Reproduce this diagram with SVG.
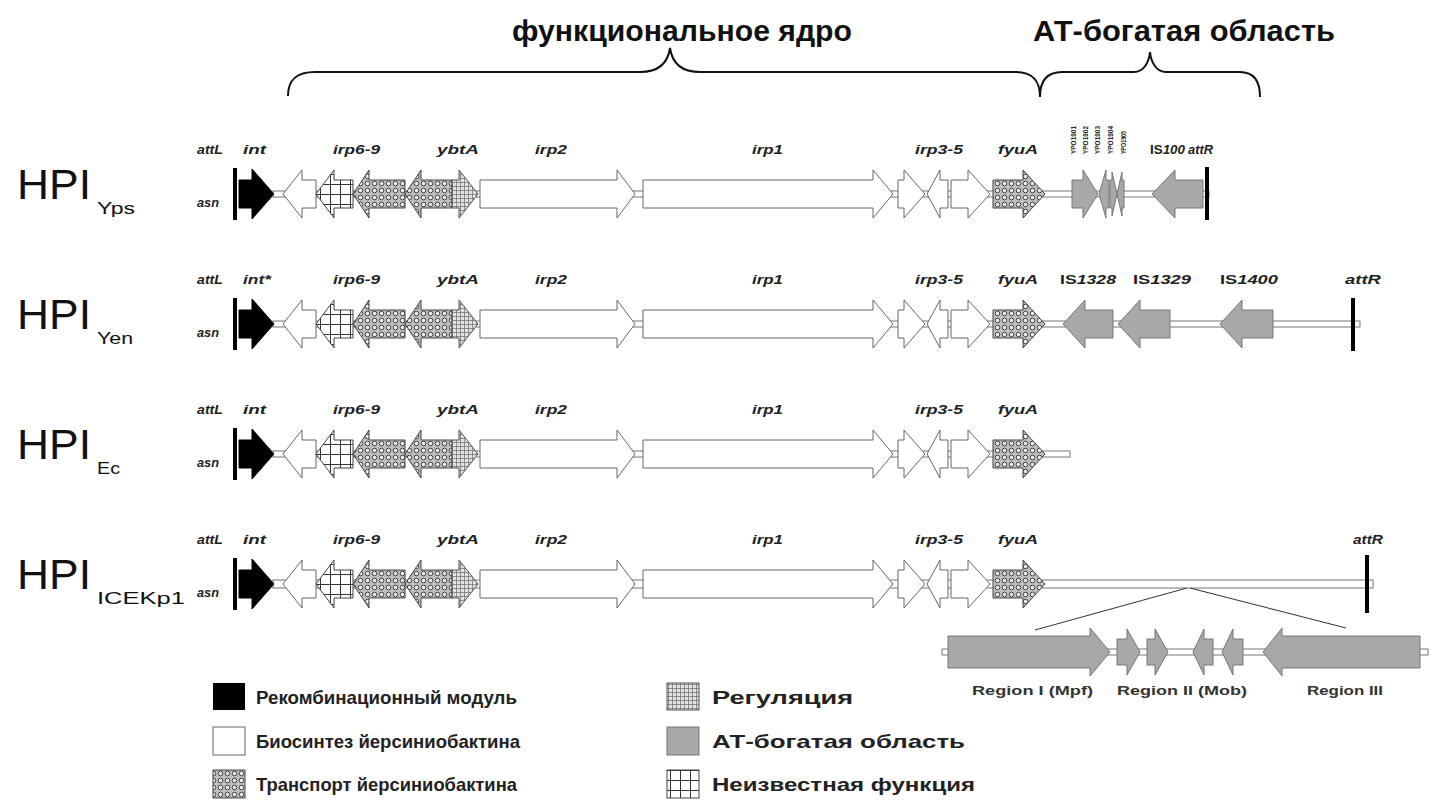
<svg xmlns="http://www.w3.org/2000/svg" width="1435" height="800" viewBox="0 0 1435 800">
<defs>
<pattern id="pT" width="7" height="7" patternUnits="userSpaceOnUse">
<rect width="7" height="7" fill="#bdbdbd"/>
<circle cx="3.5" cy="3.5" r="2.3" fill="#e8e8e8" stroke="#333" stroke-width="0.9"/>
</pattern>
<pattern id="pR" width="4" height="4" patternUnits="userSpaceOnUse">
<rect width="4" height="4" fill="#e2e2e2"/>
<path d="M0,0.5H4M0.5,0V4" stroke="#777" stroke-width="0.8"/>
</pattern>
<pattern id="pU" width="10" height="10" patternUnits="userSpaceOnUse">
<rect width="10" height="10" fill="#fff"/>
<path d="M0,0.5H10M0.5,0V10" stroke="#333" stroke-width="1"/>
</pattern>
</defs>
<style>
.lbl{font-family:"Liberation Sans",Arial,sans-serif;font-weight:bold;font-style:italic;font-size:12px;fill:#222}
.up{font-style:normal}
.hpi{font-family:"Liberation Sans",Arial,sans-serif;font-size:42px;fill:#111}
.sub{font-family:"Liberation Sans",Arial,sans-serif;font-size:17px;fill:#111}
.ttl{font-family:"Liberation Sans",Arial,sans-serif;font-weight:bold;font-size:29px;fill:#111}
.leg{font-family:"Liberation Sans",Arial,sans-serif;font-weight:bold;font-size:19px;fill:#222}
.reg{font-family:"Liberation Sans",Arial,sans-serif;font-weight:bold;font-size:12px;fill:#333}
.vt{font-family:"Liberation Sans",Arial,sans-serif;font-weight:bold;font-size:8px;fill:#222}
.w{fill:#fff;stroke:#666;stroke-width:1}
.k{fill:#000;stroke:#000;stroke-width:1}
.t{fill:url(#pT);stroke:#444;stroke-width:1}
.r{fill:url(#pR);stroke:#555;stroke-width:1}
.u{fill:url(#pU);stroke:#444;stroke-width:1}
.a{fill:#a8a8a8;stroke:#777;stroke-width:1}
.dna{fill:#fff;stroke:#777;stroke-width:1}
.bar{fill:#000}
.brace{fill:none;stroke:#111;stroke-width:2}
.zl{fill:none;stroke:#333;stroke-width:1}
</style>
<rect width="1435" height="800" fill="#fff"/>

<g id="titles">
<text class="ttl" x="512" y="41" textLength="340" lengthAdjust="spacingAndGlyphs">функциональное ядро</text>
<text class="ttl" x="1033" y="41" textLength="302" lengthAdjust="spacingAndGlyphs">АТ-богатая область</text>
<path class="brace" d="M288,96 C288,80 296,72 315,72 L640,72 C660,72 668,62 670,48 C672,62 680,72 700,72 L1015,72 C1034,72 1040,82 1040,97"/>
<path class="brace" d="M1040,97 C1040,82 1046,72 1062,72 L1134,72 C1144,72 1149,62 1150,52 C1151,62 1156,72 1166,72 L1240,72 C1255,72 1260,82 1260,97"/>
</g>

<g id="row-Yps" transform="translate(0,194)">
<text class="hpi" x="17" y="5" textLength="74" lengthAdjust="spacingAndGlyphs">HPI</text>
<text class="sub" x="97" y="20" textLength="38" lengthAdjust="spacingAndGlyphs">Yps</text>
<rect class="dna" x="273" y="-3" width="936" height="6"/>
<rect class="bar" x="233" y="-26" width="4" height="52"/>
<polygon class="k" points="239,-14 252,-14 252,-25 274,0 252,25 252,14 239,14"/>
<polygon class="w" points="316,-14 302,-14 302,-24 283,0 302,24 302,14 316,14"/>
<polygon class="u" points="353,-14 334,-14 334,-24 316,0 334,24 334,14 353,14"/>
<polygon class="t" points="405,-14 369,-14 369,-24 353,0 369,24 369,14 405,14"/>
<polygon class="t" points="452,-14 421,-14 421,-24 405,0 421,24 421,14 452,14"/>
<polygon class="r" points="452,-14 459,-14 459,-24 478,0 459,24 459,14 452,14"/>
<polygon class="w" points="480,-14 617,-14 617,-24 635,0 617,24 617,14 480,14"/>
<polygon class="w" points="643,-14 873,-14 873,-24 893,0 873,24 873,14 643,14"/>
<polygon class="w" points="898,-14 904,-14 904,-24 925,0 904,24 904,14 898,14"/>
<polygon class="w" points="948,-14 940,-14 940,-24 927,0 940,24 940,14 948,14"/>
<polygon class="w" points="951,-14 968,-14 968,-24 990,0 968,24 968,14 951,14"/>
<polygon class="t" points="993,-14 1023,-14 1023,-24 1045,0 1023,24 1023,14 993,14"/>
<polygon class="a" points="1072,-14 1083,-14 1083,-24 1098,0 1083,24 1083,14 1072,14"/>
<polygon class="a" points="1109,-14 1106,-14 1106,-24 1099,0 1106,24 1106,14 1109,14"/>
<polygon class="a" points="1110,-14 1112,-14 1112,-22 1117,0 1112,22 1112,14 1110,14"/>
<polygon class="a" points="1124,-14 1122,-14 1122,-22 1117,0 1122,22 1122,14 1124,14"/>
<polygon class="a" points="1203,-14 1175,-14 1175,-24 1152,0 1175,24 1175,14 1203,14"/>
<rect class="bar" x="1205" y="-27" width="4" height="53"/>
<text class="lbl" x="197" y="-40" textLength="26" lengthAdjust="spacingAndGlyphs">attL</text>
<text class="lbl" x="197" y="13" textLength="22" lengthAdjust="spacingAndGlyphs">asn</text>
<text class="lbl" x="243" y="-40" textLength="23" lengthAdjust="spacingAndGlyphs">int</text>
<text class="lbl" x="333" y="-40" textLength="47" lengthAdjust="spacingAndGlyphs">irp6-9</text>
<text class="lbl" x="437" y="-40" textLength="42" lengthAdjust="spacingAndGlyphs">ybtA</text>
<text class="lbl" x="535" y="-40" textLength="32" lengthAdjust="spacingAndGlyphs">irp2</text>
<text class="lbl" x="752" y="-40" textLength="31" lengthAdjust="spacingAndGlyphs">irp1</text>
<text class="lbl" x="915" y="-40" textLength="48" lengthAdjust="spacingAndGlyphs">irp3-5</text>
<text class="lbl" x="998" y="-40" textLength="40" lengthAdjust="spacingAndGlyphs">fyuA</text>
<text class="lbl" x="1150" y="-40" textLength="35" lengthAdjust="spacingAndGlyphs"><tspan class="up">IS</tspan>100</text>
<text class="lbl" x="1188" y="-40" textLength="25" lengthAdjust="spacingAndGlyphs">attR</text>
<text class="vt" transform="translate(1076,-40) rotate(-90)" textLength="28" lengthAdjust="spacingAndGlyphs">YPO1901</text>
<text class="vt" transform="translate(1088,-40) rotate(-90)" textLength="28" lengthAdjust="spacingAndGlyphs">YPO1902</text>
<text class="vt" transform="translate(1100,-40) rotate(-90)" textLength="28" lengthAdjust="spacingAndGlyphs">YPO1903</text>
<text class="vt" transform="translate(1113,-40) rotate(-90)" textLength="28" lengthAdjust="spacingAndGlyphs">YPO1904</text>
<text class="vt" transform="translate(1126,-40) rotate(-90)" textLength="23" lengthAdjust="spacingAndGlyphs">YPO1905</text>
</g>

<g id="row-Yen" transform="translate(0,324)">
<text class="hpi" x="17" y="5" textLength="74" lengthAdjust="spacingAndGlyphs">HPI</text>
<text class="sub" x="97" y="20" textLength="36" lengthAdjust="spacingAndGlyphs">Yen</text>
<rect class="dna" x="273" y="-3" width="1087" height="6"/>
<rect class="bar" x="233" y="-26" width="4" height="52"/>
<polygon class="k" points="239,-14 252,-14 252,-25 274,0 252,25 252,14 239,14"/>
<polygon class="w" points="316,-14 302,-14 302,-24 283,0 302,24 302,14 316,14"/>
<polygon class="u" points="353,-14 334,-14 334,-24 316,0 334,24 334,14 353,14"/>
<polygon class="t" points="405,-14 369,-14 369,-24 353,0 369,24 369,14 405,14"/>
<polygon class="t" points="452,-14 421,-14 421,-24 405,0 421,24 421,14 452,14"/>
<polygon class="r" points="452,-14 459,-14 459,-24 478,0 459,24 459,14 452,14"/>
<polygon class="w" points="480,-14 617,-14 617,-24 635,0 617,24 617,14 480,14"/>
<polygon class="w" points="643,-14 873,-14 873,-24 893,0 873,24 873,14 643,14"/>
<polygon class="w" points="898,-14 904,-14 904,-24 925,0 904,24 904,14 898,14"/>
<polygon class="w" points="948,-14 940,-14 940,-24 927,0 940,24 940,14 948,14"/>
<polygon class="w" points="951,-14 968,-14 968,-24 990,0 968,24 968,14 951,14"/>
<polygon class="t" points="993,-14 1023,-14 1023,-24 1045,0 1023,24 1023,14 993,14"/>
<polygon class="a" points="1113,-14 1085,-14 1085,-24 1063,0 1085,24 1085,14 1113,14"/>
<polygon class="a" points="1170,-14 1140,-14 1140,-24 1118,0 1140,24 1140,14 1170,14"/>
<polygon class="a" points="1273,-14 1242,-14 1242,-24 1220,0 1242,24 1242,14 1273,14"/>
<rect class="bar" x="1351" y="-26" width="4" height="53"/>
<text class="lbl" x="197" y="-40" textLength="26" lengthAdjust="spacingAndGlyphs">attL</text>
<text class="lbl" x="197" y="13" textLength="22" lengthAdjust="spacingAndGlyphs">asn</text>
<text class="lbl" x="243" y="-40" textLength="28" lengthAdjust="spacingAndGlyphs">int*</text>
<text class="lbl" x="333" y="-40" textLength="47" lengthAdjust="spacingAndGlyphs">irp6-9</text>
<text class="lbl" x="437" y="-40" textLength="42" lengthAdjust="spacingAndGlyphs">ybtA</text>
<text class="lbl" x="535" y="-40" textLength="32" lengthAdjust="spacingAndGlyphs">irp2</text>
<text class="lbl" x="752" y="-40" textLength="31" lengthAdjust="spacingAndGlyphs">irp1</text>
<text class="lbl" x="915" y="-40" textLength="48" lengthAdjust="spacingAndGlyphs">irp3-5</text>
<text class="lbl" x="998" y="-40" textLength="40" lengthAdjust="spacingAndGlyphs">fyuA</text>
<text class="lbl" x="1060" y="-40" textLength="56" lengthAdjust="spacingAndGlyphs"><tspan class="up">IS</tspan>1328</text>
<text class="lbl" x="1133" y="-40" textLength="58" lengthAdjust="spacingAndGlyphs"><tspan class="up">IS</tspan>1329</text>
<text class="lbl" x="1220" y="-40" textLength="58" lengthAdjust="spacingAndGlyphs"><tspan class="up">IS</tspan>1400</text>
<text class="lbl" x="1345" y="-40" textLength="36" lengthAdjust="spacingAndGlyphs">attR</text>
</g>

<g id="row-Ec" transform="translate(0,454)">
<text class="hpi" x="17" y="5" textLength="74" lengthAdjust="spacingAndGlyphs">HPI</text>
<text class="sub" x="97" y="20" textLength="23" lengthAdjust="spacingAndGlyphs">Ec</text>
<rect class="dna" x="273" y="-3" width="797" height="6"/>
<rect class="bar" x="233" y="-26" width="4" height="52"/>
<polygon class="k" points="239,-14 252,-14 252,-25 274,0 252,25 252,14 239,14"/>
<polygon class="w" points="316,-14 302,-14 302,-24 283,0 302,24 302,14 316,14"/>
<polygon class="u" points="353,-14 334,-14 334,-24 316,0 334,24 334,14 353,14"/>
<polygon class="t" points="405,-14 369,-14 369,-24 353,0 369,24 369,14 405,14"/>
<polygon class="t" points="452,-14 421,-14 421,-24 405,0 421,24 421,14 452,14"/>
<polygon class="r" points="452,-14 459,-14 459,-24 478,0 459,24 459,14 452,14"/>
<polygon class="w" points="480,-14 617,-14 617,-24 635,0 617,24 617,14 480,14"/>
<polygon class="w" points="643,-14 873,-14 873,-24 893,0 873,24 873,14 643,14"/>
<polygon class="w" points="898,-14 904,-14 904,-24 925,0 904,24 904,14 898,14"/>
<polygon class="w" points="948,-14 940,-14 940,-24 927,0 940,24 940,14 948,14"/>
<polygon class="w" points="951,-14 968,-14 968,-24 990,0 968,24 968,14 951,14"/>
<polygon class="t" points="993,-14 1023,-14 1023,-24 1045,0 1023,24 1023,14 993,14"/>
<text class="lbl" x="197" y="-40" textLength="26" lengthAdjust="spacingAndGlyphs">attL</text>
<text class="lbl" x="197" y="13" textLength="22" lengthAdjust="spacingAndGlyphs">asn</text>
<text class="lbl" x="243" y="-40" textLength="23" lengthAdjust="spacingAndGlyphs">int</text>
<text class="lbl" x="333" y="-40" textLength="47" lengthAdjust="spacingAndGlyphs">irp6-9</text>
<text class="lbl" x="437" y="-40" textLength="42" lengthAdjust="spacingAndGlyphs">ybtA</text>
<text class="lbl" x="535" y="-40" textLength="32" lengthAdjust="spacingAndGlyphs">irp2</text>
<text class="lbl" x="752" y="-40" textLength="31" lengthAdjust="spacingAndGlyphs">irp1</text>
<text class="lbl" x="915" y="-40" textLength="48" lengthAdjust="spacingAndGlyphs">irp3-5</text>
<text class="lbl" x="998" y="-40" textLength="40" lengthAdjust="spacingAndGlyphs">fyuA</text>
</g>

<g id="row-ICEKp1" transform="translate(0,584)">
<text class="hpi" x="17" y="5" textLength="74" lengthAdjust="spacingAndGlyphs">HPI</text>
<text class="sub" x="97" y="20" textLength="88" lengthAdjust="spacingAndGlyphs">ICEKp1</text>
<rect class="dna" x="273" y="-4" width="1100" height="8"/>
<rect class="bar" x="233" y="-26" width="4" height="52"/>
<polygon class="k" points="239,-14 252,-14 252,-25 274,0 252,25 252,14 239,14"/>
<polygon class="w" points="316,-14 302,-14 302,-24 283,0 302,24 302,14 316,14"/>
<polygon class="u" points="353,-14 334,-14 334,-24 316,0 334,24 334,14 353,14"/>
<polygon class="t" points="405,-14 369,-14 369,-24 353,0 369,24 369,14 405,14"/>
<polygon class="t" points="452,-14 421,-14 421,-24 405,0 421,24 421,14 452,14"/>
<polygon class="r" points="452,-14 459,-14 459,-24 478,0 459,24 459,14 452,14"/>
<polygon class="w" points="480,-14 617,-14 617,-24 635,0 617,24 617,14 480,14"/>
<polygon class="w" points="643,-14 873,-14 873,-24 893,0 873,24 873,14 643,14"/>
<polygon class="w" points="898,-14 904,-14 904,-24 925,0 904,24 904,14 898,14"/>
<polygon class="w" points="948,-14 940,-14 940,-24 927,0 940,24 940,14 948,14"/>
<polygon class="w" points="951,-14 968,-14 968,-24 990,0 968,24 968,14 951,14"/>
<polygon class="t" points="993,-14 1023,-14 1023,-24 1045,0 1023,24 1023,14 993,14"/>
<rect class="bar" x="1365" y="-29" width="4" height="58"/>
<text class="lbl" x="197" y="-40" textLength="26" lengthAdjust="spacingAndGlyphs">attL</text>
<text class="lbl" x="197" y="13" textLength="22" lengthAdjust="spacingAndGlyphs">asn</text>
<text class="lbl" x="243" y="-40" textLength="23" lengthAdjust="spacingAndGlyphs">int</text>
<text class="lbl" x="333" y="-40" textLength="47" lengthAdjust="spacingAndGlyphs">irp6-9</text>
<text class="lbl" x="437" y="-40" textLength="42" lengthAdjust="spacingAndGlyphs">ybtA</text>
<text class="lbl" x="535" y="-40" textLength="32" lengthAdjust="spacingAndGlyphs">irp2</text>
<text class="lbl" x="752" y="-40" textLength="31" lengthAdjust="spacingAndGlyphs">irp1</text>
<text class="lbl" x="915" y="-40" textLength="48" lengthAdjust="spacingAndGlyphs">irp3-5</text>
<text class="lbl" x="998" y="-40" textLength="40" lengthAdjust="spacingAndGlyphs">fyuA</text>
<text class="lbl" x="1353" y="-40" textLength="30" lengthAdjust="spacingAndGlyphs">attR</text>
</g>

<g id="connectors">
<path class="zl" d="M1187,588 L1035,630"/>
<path class="zl" d="M1190,588 L1346,628"/>
</g>

<g id="region-box">
<rect class="dna" x="942" y="649" width="486" height="6"/>
<polygon class="a" points="948,636 1090,636 1090,628 1110,652 1090,676 1090,668 948,668"/>
<polygon class="a" points="1117,639 1127,639 1127,629 1140,652 1127,675 1127,665 1117,665"/>
<polygon class="a" points="1147,639 1155,639 1155,629 1168,652 1155,675 1155,665 1147,665"/>
<polygon class="a" points="1213,639 1204,639 1204,629 1193,652 1204,675 1204,665 1213,665"/>
<polygon class="a" points="1243,639 1233,639 1233,629 1222,652 1233,675 1233,665 1243,665"/>
<polygon class="a" points="1420,636 1282,636 1282,628 1263,652 1282,676 1282,668 1420,668"/>
<text class="reg" x="972" y="695" textLength="121" lengthAdjust="spacingAndGlyphs">Region I (Mpf)</text>
<text class="reg" x="1117" y="695" textLength="130" lengthAdjust="spacingAndGlyphs">Region II (Mob)</text>
<text class="reg" x="1307" y="695" textLength="76" lengthAdjust="spacingAndGlyphs">Region III</text>
</g>

<g id="legend">
<rect x="213" y="683" width="32" height="27" fill="#000"/>
<rect class="w" x="213" y="727" width="32" height="28"/>
<rect class="t" x="213" y="770" width="32" height="28"/>
<rect class="r" x="667" y="683" width="32" height="27"/>
<rect class="a" x="667" y="727" width="32" height="28"/>
<rect class="u" x="667" y="770" width="32" height="28"/>
<text class="leg" x="256" y="704" textLength="261" lengthAdjust="spacingAndGlyphs">Рекомбинационный модуль</text>
<text class="leg" x="256" y="748" textLength="264" lengthAdjust="spacingAndGlyphs">Биосинтез йерсиниобактина</text>
<text class="leg" x="256" y="791" textLength="261" lengthAdjust="spacingAndGlyphs">Транспорт йерсиниобактина</text>
<text class="leg" x="712" y="704" textLength="141" lengthAdjust="spacingAndGlyphs">Регуляция</text>
<text class="leg" x="712" y="748" textLength="253" lengthAdjust="spacingAndGlyphs">АТ-богатая область</text>
<text class="leg" x="712" y="791" textLength="263" lengthAdjust="spacingAndGlyphs">Неизвестная функция</text>
</g>
</svg>
